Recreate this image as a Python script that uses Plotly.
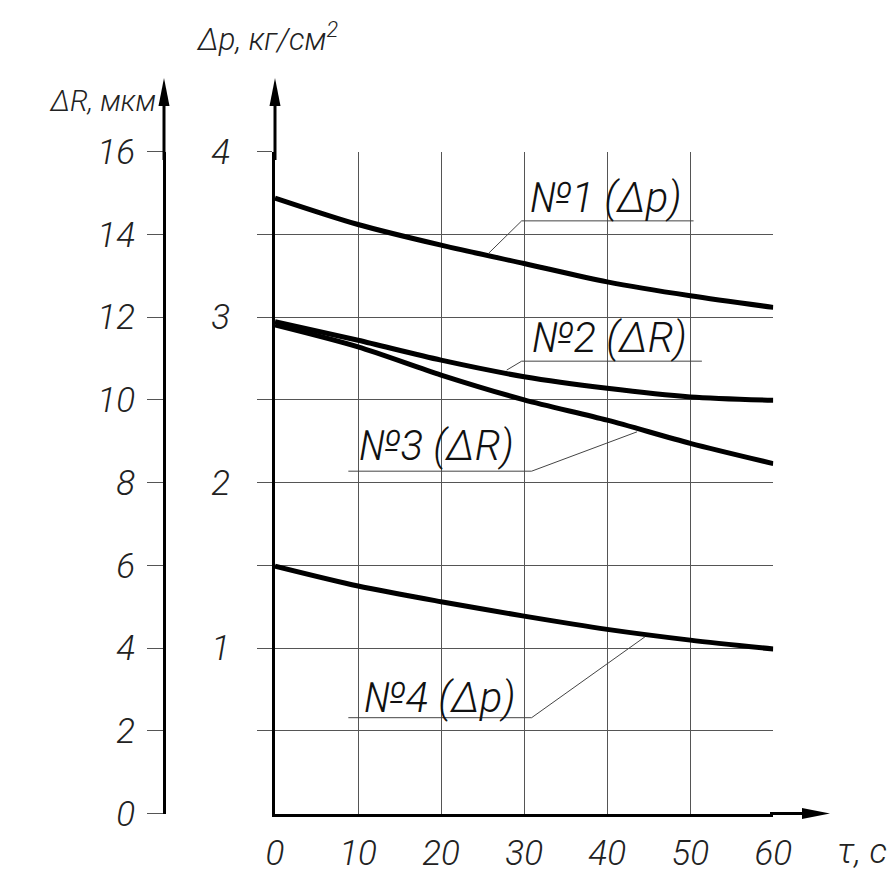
import plotly.graph_objects as go

# ---- data ----
t = [0, 10, 20, 30, 40, 50, 60]
dp_no1 = [3.72, 3.56, 3.435, 3.324, 3.213, 3.129, 3.059]   # Δp, kg/cm2
dR_no2 = [11.89, 11.44, 10.96, 10.56, 10.28, 10.07, 9.99]  # ΔR, µm
dR_no3 = [11.81, 11.28, 10.60, 10.00, 9.51, 8.95, 8.46]    # ΔR, µm
dp_no4 = [1.495, 1.375, 1.28, 1.193, 1.113, 1.048, 0.994]  # Δp, kg/cm2

x_ticks = [0, 10, 20, 30, 40, 50, 60]
dp_ticks = [0.5, 1, 1.5, 2, 2.5, 3, 3.5, 4]
dp_ticktext = ["", "1", "", "2", "", "3", "", "4"]
dR_ticks = [0, 2, 4, 6, 8, 10, 12, 14, 16]

# label text, text centre (t, Δp), underline (t0, t1, Δp), leader end (t, Δp), leader start side
labels = [
    ("№1 (Δp)", 39.8, 3.725, 29.7, 50.4, 3.582, 25.7, 3.385, "left"),
    ("№2 (ΔR)", 40.3, 2.876, 29.7, 51.4, 2.734, 27.9, 2.68, "left"),
    ("№3 (ΔR)", 19.45, 2.227, 8.83, 30.9, 2.069, 43.6, 2.307, "right"),
    ("№4 (Δp)", 19.9, 0.704, 8.83, 30.9, 0.579, 44.55, 1.068, "right"),
]

# axis titles (text, pixel x, pixel y, text position, size)
titles = [("ΔR, мкм", 156, 104, "middle left", 29),
          ("Δp, кг/см<sup>2</sup>", 268, 42, "middle center", 31),
          ("τ, с", 862, 854, "middle center", 35)]

FONT = "Roboto, Liberation Sans, DejaVu Sans"
W, H = 892, 872
x_dom = [275 / W, 773.3 / W]
y_dom = [(H - 813.5) / H, (H - 151.7) / H]

fig = go.Figure()
line = dict(color="black", width=5, shape="spline", smoothing=0.8)
fig.add_trace(go.Scatter(x=t, y=dp_no1, mode="lines", line=line, yaxis="y", hoverinfo="skip"))
fig.add_trace(go.Scatter(x=t, y=dR_no2, mode="lines", line=line, yaxis="y2", hoverinfo="skip"))
fig.add_trace(go.Scatter(x=t, y=dR_no3, mode="lines", line=line, yaxis="y2", hoverinfo="skip"))
fig.add_trace(go.Scatter(x=t, y=dp_no4, mode="lines", line=line, yaxis="y", hoverinfo="skip"))

tickfont = dict(family=FONT, size=35, color="#222", style="italic", weight=300)

# pixel-space overlay subplot for titles and axis arrows
for text, px, py, pos, size in titles:
    fig.add_trace(go.Scatter(
        x=[px], y=[py], text=[text], textposition=pos, mode="text",
        textfont=dict(family=FONT, size=size, color="#222", style="italic", weight=300),
        xaxis="x3", yaxis="y3", hoverinfo="skip"))

fig.update_layout(
    width=W, height=H,
    margin=dict(l=0, r=0, t=0, b=0, autoexpand=False),
    paper_bgcolor="white", plot_bgcolor="rgba(0,0,0,0)",
    showlegend=False,
    xaxis=dict(domain=x_dom, range=[0, 60], tickvals=x_ticks,
               showgrid=True, gridcolor="#555", gridwidth=1,
               showline=True, linecolor="black", linewidth=3,
               zeroline=False, ticks="", ticklabelstandoff=6,
               tickfont=tickfont),
    yaxis=dict(domain=y_dom, range=[0, 4], tickvals=dp_ticks, ticktext=dp_ticktext,
               showgrid=True, gridcolor="#555", gridwidth=1,
               showline=True, linecolor="black", linewidth=3,
               zeroline=False, ticks="outside", ticklen=15, tickcolor="#555",
               tickwidth=1, ticklabelstandoff=20, tickfont=tickfont),
    yaxis2=dict(overlaying="y", anchor="free", position=164 / W, side="left",
                range=[0, 16], tickvals=dR_ticks, showgrid=False,
                showline=True, linecolor="black", linewidth=3,
                zeroline=False, ticks="outside", ticklen=16, tickcolor="#555",
                tickwidth=1, ticklabelstandoff=5, tickfont=tickfont),
    xaxis3=dict(domain=[0, 1], range=[0, W], visible=False, anchor="y3", fixedrange=True),
    yaxis3=dict(domain=[0, 1], range=[H, 0], visible=False, anchor="x3", fixedrange=True),
)

annfont = dict(family=FONT, size=42, color="#111", style="italic", weight=300)
for text, tx, ty, u0, u1, uy, lx, ly, side in labels:
    fig.add_annotation(x=tx, y=ty, xref="x", yref="y", text=text, showarrow=False,
                       font=annfont, xanchor="center", yanchor="middle")
    fig.add_shape(type="line", x0=u0, x1=u1, y0=uy, y1=uy, xref="x", yref="y",
                  line=dict(color="#444", width=1))
    sx = u0 if side == "left" else u1
    fig.add_shape(type="line", x0=sx, x1=lx, y0=uy, y1=ly, xref="x", yref="y",
                  line=dict(color="#444", width=1))

# axis arrows in pixel space: shaft extension + filled arrowhead
HL, HW = 28, 5.5   # head length, half width
for ax_x in (164, 275):
    fig.add_shape(type="line", x0=ax_x, x1=ax_x, y0=160, y1=96, xref="x3", yref="y3",
                  line=dict(color="black", width=3))
    fig.add_shape(type="path", xref="x3", yref="y3", line=dict(width=0),
                  fillcolor="black",
                  path=f"M{ax_x},78 L{ax_x - HW},{78 + HL} L{ax_x + HW},{78 + HL} Z")
fig.add_shape(type="line", x0=770, x1=812, y0=813.5, y1=813.5, xref="x3", yref="y3",
              line=dict(color="black", width=3))
fig.add_shape(type="path", xref="x3", yref="y3", line=dict(width=0), fillcolor="black",
              path=f"M830,813.5 L{830 - HL},{813.5 - HW} L{830 - HL},{813.5 + HW} Z")

fig.write_html("out.html")
